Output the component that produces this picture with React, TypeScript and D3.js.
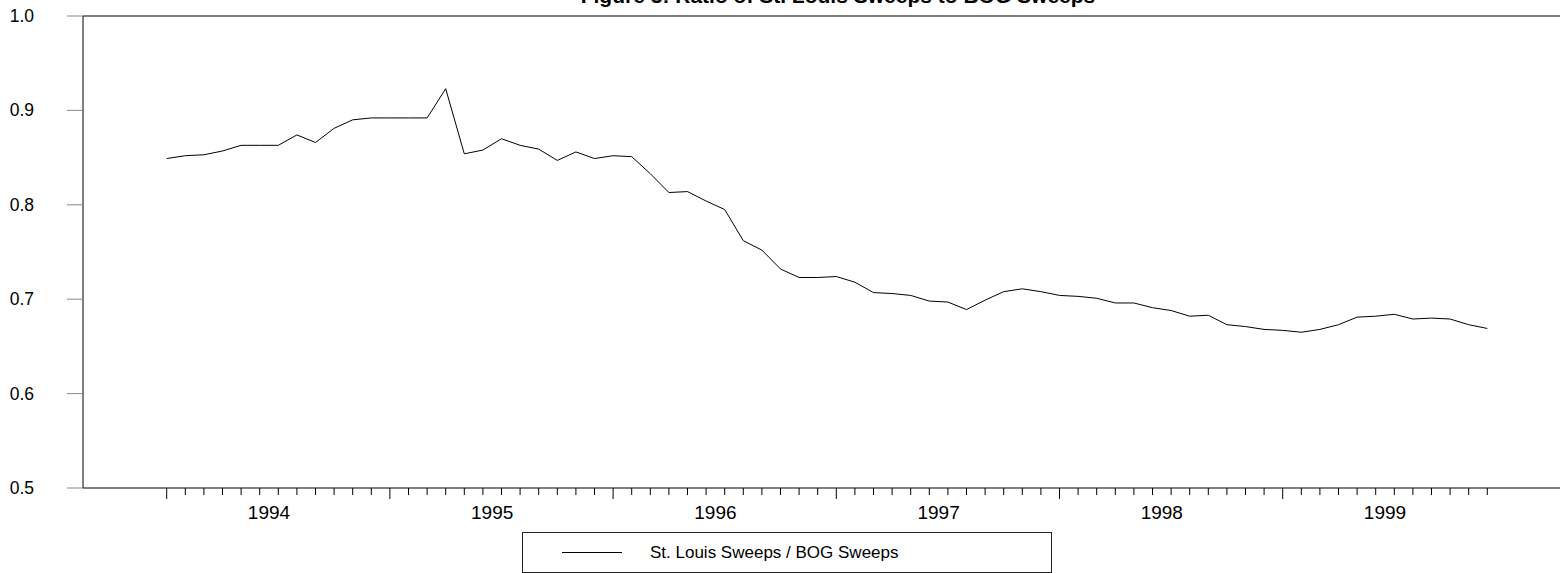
import React from "react";
import * as d3 from "d3";

const TITLE = "Figure 3: Ratio of St. Louis Sweeps to BOG Sweeps";
const SERIES_NAME = "St. Louis Sweeps / BOG Sweeps";
const YEARS = ["1994", "1995", "1996", "1997", "1998", "1999"];
const Y_TICKS = [0.5, 0.6, 0.7, 0.8, 0.9, 1.0];
// Monthly ratio, Jan 1994 .. Dec 1999
const RATIO = [
  0.849, 0.852, 0.853, 0.857, 0.863, 0.863, 0.863, 0.874, 0.866, 0.881, 0.89, 0.892,
  0.892, 0.892, 0.892, 0.923, 0.854, 0.858, 0.87, 0.863, 0.859, 0.847, 0.856, 0.849,
  0.852, 0.851, 0.833, 0.813, 0.814, 0.804, 0.795, 0.762, 0.752, 0.732, 0.723, 0.723,
  0.724, 0.718, 0.707, 0.706, 0.704, 0.698, 0.697, 0.689, 0.699, 0.708, 0.711, 0.708,
  0.704, 0.703, 0.701, 0.696, 0.696, 0.691, 0.688, 0.682, 0.683, 0.673, 0.671, 0.668,
  0.667, 0.665, 0.668, 0.673, 0.681, 0.682, 0.684, 0.679, 0.68, 0.679, 0.673, 0.669,
];

const W = 1560;
const H = 573;
const FONT = "'Liberation Sans', Arial, Helvetica, sans-serif";

export default function App() {
  const left = 83;
  const top = 16;
  const bottom = 488;
  const month = 18.6;
  const x = d3
    .scaleLinear()
    .domain([-4.5, 75.5])
    .range([left, left + 80 * month]);
  const y = d3.scaleLinear().domain([0.5, 1.0]).range([bottom, top]);
  const line = d3
    .line<number>()
    .x((_, i) => x(i))
    .y((d) => y(d));
  const months = d3.range(RATIO.length);

  return (
    <svg
      width={W}
      height={H}
      style={{ position: "absolute", left: 0, top: 0, background: "#fff" }}
      fontFamily={FONT}
    >
      <rect x={0} y={0} width={W} height={H} fill="#fff" />
      <text
        x={838}
        y={2.5}
        textAnchor="middle"
        fontSize={21}
        fontWeight="bold"
        fill="#000"
      >
        {TITLE}
      </text>
      {/* frame */}
      <line x1={left} x2={W + 20} y1={top} y2={top} stroke="#000" strokeWidth={1} />
      <line x1={left} x2={W + 20} y1={bottom} y2={bottom} stroke="#000" strokeWidth={1} />
      <line x1={left} x2={left} y1={top} y2={bottom} stroke="#000" strokeWidth={1} />
      {/* y axis */}
      {Y_TICKS.map((t) => (
        <g key={t}>
          <line x1={67} x2={left} y1={y(t)} y2={y(t)} stroke="#888" strokeWidth={1} />
          <text
            x={34}
            y={y(t)}
            textAnchor="end"
            dominantBaseline="central"
            fontSize={17.5}
            fill="#000"
          >
            {d3.format(".1f")(t)}
          </text>
        </g>
      ))}
      {/* x axis ticks */}
      {months.map((i) => (
        <line
          key={i}
          x1={x(i)}
          x2={x(i)}
          y1={bottom}
          y2={i % 12 === 0 ? bottom + 11 : bottom + 7}
          stroke="#000"
          strokeWidth={1}
        />
      ))}
      {YEARS.map((yr, k) => (
        <text
          key={yr}
          x={x(k * 12 + 5.5)}
          y={519}
          textAnchor="middle"
          fontSize={19}
          fill="#000"
        >
          {yr}
        </text>
      ))}
      {/* series */}
      <path d={line(RATIO) || ""} fill="none" stroke="#000" strokeWidth={1} />
      {/* legend */}
      <rect x={522.5} y={532.5} width={529} height={40} fill="#fff" stroke="#222" strokeWidth={1} />
      <line x1={562} x2={622} y1={552.5} y2={552.5} stroke="#000" strokeWidth={1} />
      <text x={650} y={558} fontSize={17} fill="#000">
        {SERIES_NAME}
      </text>
    </svg>
  );
}
